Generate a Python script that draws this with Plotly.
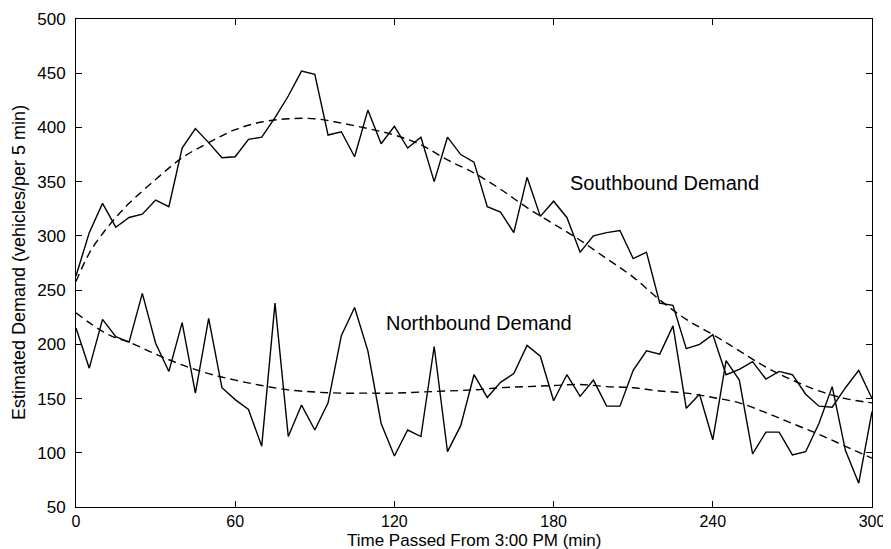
import plotly.graph_objects as go

# Time axis (minutes after 3:00 PM), 5-minute intervals
time_min = list(range(0, 305, 5))

southbound = [263, 303, 330, 308, 317, 320, 333, 327, 381, 399,
              386, 372, 373, 389, 391, 409, 429, 452, 449, 393,
              396, 373, 416, 385, 401, 381, 391, 350, 391, 375,
              368, 327, 322, 303, 354, 318, 332, 317, 285, 300,
              303, 305, 279, 285, 238, 236, 196, 200, 209, 172,
              177, 184, 168, 175, 172, 154, 143, 142, 160, 176,
              150]

northbound = [215, 178, 223, 207, 202, 247, 201, 175, 220, 155,
              224, 160, 149, 140, 106, 238, 115, 144, 121, 146,
              208, 234, 194, 127, 97, 121, 115, 198, 101, 125,
              172, 151, 165, 173, 199, 189, 148, 172, 152, 167,
              143, 143, 176, 194, 191, 217, 141, 154, 112, 185,
              167, 99, 119, 119, 98, 101, 127, 161, 102, 72,
              138]

# Smooth trend curves
fit_time = [0, 5, 10, 15, 20, 30, 40, 50, 60, 70, 80, 90, 100, 110, 120, 130,
            140, 150, 160, 170, 180, 190, 200, 210, 220, 230, 240, 250, 260,
            270, 280, 290, 300]
southbound_fit = [258, 284, 302, 317, 330, 352, 372, 386, 398, 405, 408, 408,
                  404, 399, 393, 384, 370, 358, 343, 326, 311, 296, 279, 262,
                  241, 223, 209, 194, 179, 167, 157, 150, 146]
northbound_fit = [229, 220, 212, 206, 202, 191, 181, 173, 167, 162, 158, 156,
                  155, 155, 155, 156, 157, 158, 160, 161, 162, 163, 161, 160,
                  157, 155, 151, 146, 137, 127, 117, 106, 95]

x_ticks = [0, 60, 120, 180, 240, 300]
y_ticks = [50, 100, 150, 200, 250, 300, 350, 400, 450, 500]

FONT = "Liberation Sans, Arial, Helvetica, sans-serif"
LINE_W = 1.4

fig = go.Figure()
fig.add_trace(go.Scatter(x=time_min, y=southbound, mode="lines",
                         line=dict(color="black", width=LINE_W),
                         name="Southbound Demand", showlegend=False))
fig.add_trace(go.Scatter(x=time_min, y=northbound, mode="lines",
                         line=dict(color="black", width=LINE_W),
                         name="Northbound Demand", showlegend=False))
fig.add_trace(go.Scatter(x=fit_time, y=southbound_fit, mode="lines",
                         line=dict(color="black", width=LINE_W, dash="8px,5px",
                                   shape="spline", smoothing=1.0),
                         name="Southbound trend", showlegend=False))
fig.add_trace(go.Scatter(x=fit_time, y=northbound_fit, mode="lines",
                         line=dict(color="black", width=LINE_W, dash="8px,5px",
                                   shape="spline", smoothing=1.0),
                         name="Northbound trend", showlegend=False))

fig.add_annotation(x=185.5, y=349, xref="x", yref="y", text="Southbound Demand",
                   showarrow=False, xanchor="left", yanchor="middle",
                   font=dict(family=FONT, size=20, color="black"))
fig.add_annotation(x=116, y=220, xref="x", yref="y", text="Northbound Demand",
                   showarrow=False, xanchor="left", yanchor="middle",
                   font=dict(family=FONT, size=20, color="black"))

# axis titles (plot area is 796 x 488 px, left edge at page x 76, bottom at 507)
fig.add_annotation(x=(19 - 76) / 796, y=0.5, xref="paper", yref="paper",
                   text="Estimated Demand (vehicles/per 5 min)", textangle=-90,
                   showarrow=False, xanchor="center", yanchor="middle",
                   font=dict(family=FONT, size=18, color="black"))
fig.add_annotation(x=0.5, y=(507 - 540) / 488, xref="paper", yref="paper",
                   text="Time Passed From 3:00 PM (min)",
                   showarrow=False, xanchor="center", yanchor="middle",
                   font=dict(family=FONT, size=17, color="black"))

axis_common = dict(showgrid=False, zeroline=False, showline=True,
                   linecolor="black", linewidth=1, mirror="ticks",
                   ticks="inside", ticklen=6, tickcolor="black", tickwidth=1,
                   automargin=False)

fig.update_xaxes(range=[0, 300], tickvals=x_ticks, ticklabelstandoff=0,
                 tickfont=dict(family=FONT, size=16, color="black"),
                 **axis_common)
fig.update_yaxes(range=[50, 500], tickvals=y_ticks, ticklabelstandoff=6,
                 tickfont=dict(family=FONT, size=17, color="black"),
                 **axis_common)

# page body adds an 8 px offset; figure sized to fill the 891x549 window
fig.update_layout(width=883, height=541,
                  margin=dict(l=68, r=19, t=11, b=42),
                  paper_bgcolor="white", plot_bgcolor="white",
                  font=dict(family=FONT, color="black"))

fig.write_html("out.html")
